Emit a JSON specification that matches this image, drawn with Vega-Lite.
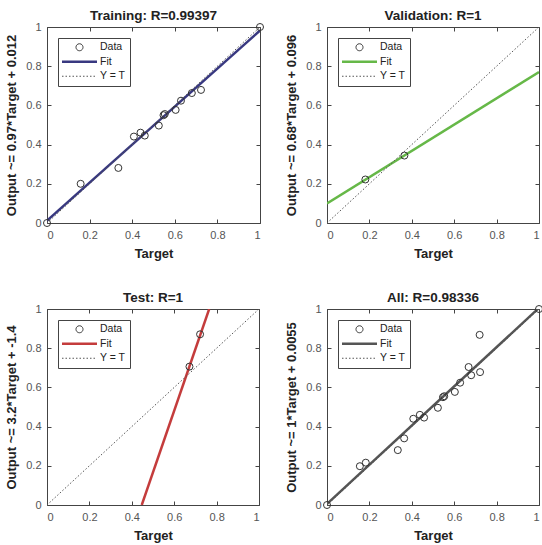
{
  "$schema": "https://vega.github.io/schema/vega-lite/v6.json",
  "padding": {"left": 5, "top": 8, "right": 0, "bottom": 0},
  "background": "white",
  "datasets": {
    "pts": [
      {"panel": "Training", "kind": "Data", "x": 0, "y": 0},
      {"panel": "Training", "kind": "Data", "x": 0.158, "y": 0.2},
      {"panel": "Training", "kind": "Data", "x": 0.335, "y": 0.281},
      {"panel": "Training", "kind": "Data", "x": 0.408, "y": 0.441},
      {"panel": "Training", "kind": "Data", "x": 0.439, "y": 0.461},
      {"panel": "Training", "kind": "Data", "x": 0.459, "y": 0.446},
      {"panel": "Training", "kind": "Data", "x": 0.525, "y": 0.497},
      {"panel": "Training", "kind": "Data", "x": 0.547, "y": 0.55},
      {"panel": "Training", "kind": "Data", "x": 0.553, "y": 0.556},
      {"panel": "Training", "kind": "Data", "x": 0.604, "y": 0.577},
      {"panel": "Training", "kind": "Data", "x": 0.629, "y": 0.624},
      {"panel": "Training", "kind": "Data", "x": 0.68, "y": 0.663},
      {"panel": "Training", "kind": "Data", "x": 0.723, "y": 0.679},
      {"panel": "Training", "kind": "Data", "x": 1, "y": 1},
      {"panel": "Training", "kind": "Fit", "x": 0, "y": 0.012},
      {"panel": "Training", "kind": "Fit", "x": 1, "y": 0.982},
      {"panel": "Training", "kind": "Y = T", "x": 0, "y": 0},
      {"panel": "Training", "kind": "Y = T", "x": 1, "y": 1},
      {"panel": "Validation", "kind": "Data", "x": 0.181, "y": 0.222},
      {"panel": "Validation", "kind": "Data", "x": 0.365, "y": 0.344},
      {"panel": "Validation", "kind": "Fit", "x": 0, "y": 0.1},
      {"panel": "Validation", "kind": "Fit", "x": 1, "y": 0.77},
      {"panel": "Validation", "kind": "Y = T", "x": 0, "y": 0},
      {"panel": "Validation", "kind": "Y = T", "x": 1, "y": 1},
      {"panel": "Test", "kind": "Data", "x": 0.672, "y": 0.706},
      {"panel": "Test", "kind": "Data", "x": 0.722, "y": 0.871},
      {"panel": "Test", "kind": "Fit", "x": 0.447, "y": 0},
      {"panel": "Test", "kind": "Fit", "x": 0.765, "y": 1},
      {"panel": "Test", "kind": "Y = T", "x": 0, "y": 0},
      {"panel": "Test", "kind": "Y = T", "x": 1, "y": 1},
      {"panel": "All", "kind": "Data", "x": 0, "y": 0},
      {"panel": "All", "kind": "Data", "x": 0.155, "y": 0.198},
      {"panel": "All", "kind": "Data", "x": 0.183, "y": 0.216},
      {"panel": "All", "kind": "Data", "x": 0.334, "y": 0.28},
      {"panel": "All", "kind": "Data", "x": 0.364, "y": 0.34},
      {"panel": "All", "kind": "Data", "x": 0.407, "y": 0.44},
      {"panel": "All", "kind": "Data", "x": 0.438, "y": 0.46},
      {"panel": "All", "kind": "Data", "x": 0.458, "y": 0.446},
      {"panel": "All", "kind": "Data", "x": 0.523, "y": 0.496},
      {"panel": "All", "kind": "Data", "x": 0.547, "y": 0.55},
      {"panel": "All", "kind": "Data", "x": 0.553, "y": 0.555},
      {"panel": "All", "kind": "Data", "x": 0.603, "y": 0.577},
      {"panel": "All", "kind": "Data", "x": 0.628, "y": 0.624},
      {"panel": "All", "kind": "Data", "x": 0.668, "y": 0.704},
      {"panel": "All", "kind": "Data", "x": 0.68, "y": 0.662},
      {"panel": "All", "kind": "Data", "x": 0.722, "y": 0.678},
      {"panel": "All", "kind": "Data", "x": 0.72, "y": 0.868},
      {"panel": "All", "kind": "Data", "x": 1, "y": 1},
      {"panel": "All", "kind": "Fit", "x": 0, "y": 0.0055},
      {"panel": "All", "kind": "Fit", "x": 1, "y": 1.0055},
      {"panel": "All", "kind": "Y = T", "x": 0, "y": 0},
      {"panel": "All", "kind": "Y = T", "x": 1, "y": 1}
    ]
  },
  "columns": 2,
  "spacing": {"row": 29, "column": 19},
  "resolve": {
    "scale": {"x": "independent", "y": "independent", "color": "independent"},
    "legend": {"color": "independent"},
    "axis": {"x": "independent", "y": "independent"}
  },
  "concat": [
    {
      "title": "Training: R=0.99397",
      "width": 213, "height": 196,
      "data": {"name": "pts"},
      "transform": [{"filter": "datum.panel === 'Training'"}],
      "resolve": {"axis": {"x": "independent", "y": "independent"}},
      "encoding": {
        "color": {"field": "kind", "type": "nominal", "scale": {"domain": ["Data", "Fit", "Y = T"], "range": ["#333333", "#383880", "#555555"]},
          "legend": {"title": null, "encode": {"symbols": {"update": {
            "shape": {"signal": "datum.value === 'Data' ? 'M2.5,0A1,1,0,1,1,4.5,0A1,1,0,1,1,2.5,0Z' : 'M-1.5,0H8.5'"},
            "strokeDash": {"signal": "datum.value === 'Y = T' ? [1.5, 2] : [1, 0]"},
            "strokeWidth": {"signal": "datum.value === 'Fit' ? 2.5 : 1"},
            "fill": {"value": "transparent"}, "opacity": {"value": 1}}}}}}
      },
      "layer": [
        {"transform": [{"filter": "datum.kind === 'Fit'"}], "mark": {"type": "line", "strokeWidth": 2.5, "clip": true},
         "encoding": {"x": {"field": "x", "type": "quantitative", "scale": {"domain": [0, 1], "nice": false}, "axis": null},
                      "y": {"field": "y", "type": "quantitative", "scale": {"domain": [0, 1], "nice": false}, "axis": null}}},
        {"transform": [{"filter": "datum.kind === 'Y = T'"}], "mark": {"type": "line", "strokeWidth": 1, "strokeDash": [1.5, 2], "clip": true},
         "encoding": {"x": {"field": "x", "type": "quantitative", "scale": {"domain": [0, 1], "nice": false}, "axis": {"orient": "top", "labels": false, "title": null, "values": [0, 0.2, 0.4, 0.6, 0.8, 1]}},
                      "y": {"field": "y", "type": "quantitative", "scale": {"domain": [0, 1], "nice": false}, "axis": {"orient": "right", "labels": false, "title": null, "values": [0, 0.2, 0.4, 0.6, 0.8, 1]}}}},
        {"transform": [{"filter": "datum.kind === 'Data'"}], "mark": {"type": "point", "filled": false, "size": 49, "opacity": 1, "strokeWidth": 1},
         "encoding": {"x": {"field": "x", "type": "quantitative", "scale": {"domain": [0, 1], "nice": false}, "axis": {"title": "Target", "values": [0, 0.2, 0.4, 0.6, 0.8, 1], "format": "~g"}},
                      "y": {"field": "y", "type": "quantitative", "scale": {"domain": [0, 1], "nice": false}, "axis": {"title": "Output ~= 0.97*Target + 0.012", "values": [0, 0.2, 0.4, 0.6, 0.8, 1], "format": "~g"}}}}
      ]
    },
    {
      "title": "Validation: R=1",
      "width": 212, "height": 196,
      "data": {"name": "pts"},
      "transform": [{"filter": "datum.panel === 'Validation'"}],
      "resolve": {"axis": {"x": "independent", "y": "independent"}},
      "encoding": {
        "color": {"field": "kind", "type": "nominal", "scale": {"domain": ["Data", "Fit", "Y = T"], "range": ["#333333", "#66b848", "#555555"]},
          "legend": {"title": null, "encode": {"symbols": {"update": {
            "shape": {"signal": "datum.value === 'Data' ? 'M2.5,0A1,1,0,1,1,4.5,0A1,1,0,1,1,2.5,0Z' : 'M-1.5,0H8.5'"},
            "strokeDash": {"signal": "datum.value === 'Y = T' ? [1.5, 2] : [1, 0]"},
            "strokeWidth": {"signal": "datum.value === 'Fit' ? 2.5 : 1"},
            "fill": {"value": "transparent"}, "opacity": {"value": 1}}}}}}
      },
      "layer": [
        {"transform": [{"filter": "datum.kind === 'Fit'"}], "mark": {"type": "line", "strokeWidth": 2.5, "clip": true},
         "encoding": {"x": {"field": "x", "type": "quantitative", "scale": {"domain": [0, 1], "nice": false}, "axis": null},
                      "y": {"field": "y", "type": "quantitative", "scale": {"domain": [0, 1], "nice": false}, "axis": null}}},
        {"transform": [{"filter": "datum.kind === 'Y = T'"}], "mark": {"type": "line", "strokeWidth": 1, "strokeDash": [1.5, 2], "clip": true},
         "encoding": {"x": {"field": "x", "type": "quantitative", "scale": {"domain": [0, 1], "nice": false}, "axis": {"orient": "top", "labels": false, "title": null, "values": [0, 0.2, 0.4, 0.6, 0.8, 1]}},
                      "y": {"field": "y", "type": "quantitative", "scale": {"domain": [0, 1], "nice": false}, "axis": {"orient": "right", "labels": false, "title": null, "values": [0, 0.2, 0.4, 0.6, 0.8, 1]}}}},
        {"transform": [{"filter": "datum.kind === 'Data'"}], "mark": {"type": "point", "filled": false, "size": 49, "opacity": 1, "strokeWidth": 1},
         "encoding": {"x": {"field": "x", "type": "quantitative", "scale": {"domain": [0, 1], "nice": false}, "axis": {"title": "Target", "values": [0, 0.2, 0.4, 0.6, 0.8, 1], "format": "~g"}},
                      "y": {"field": "y", "type": "quantitative", "scale": {"domain": [0, 1], "nice": false}, "axis": {"title": "Output ~= 0.68*Target + 0.096", "values": [0, 0.2, 0.4, 0.6, 0.8, 1], "format": "~g"}}}}
      ]
    },
    {
      "title": "Test: R=1",
      "width": 212, "height": 196,
      "data": {"name": "pts"},
      "transform": [{"filter": "datum.panel === 'Test'"}],
      "resolve": {"axis": {"x": "independent", "y": "independent"}},
      "encoding": {
        "color": {"field": "kind", "type": "nominal", "scale": {"domain": ["Data", "Fit", "Y = T"], "range": ["#333333", "#c43c3c", "#555555"]},
          "legend": {"title": null, "encode": {"symbols": {"update": {
            "shape": {"signal": "datum.value === 'Data' ? 'M2.5,0A1,1,0,1,1,4.5,0A1,1,0,1,1,2.5,0Z' : 'M-1.5,0H8.5'"},
            "strokeDash": {"signal": "datum.value === 'Y = T' ? [1.5, 2] : [1, 0]"},
            "strokeWidth": {"signal": "datum.value === 'Fit' ? 2.5 : 1"},
            "fill": {"value": "transparent"}, "opacity": {"value": 1}}}}}}
      },
      "layer": [
        {"transform": [{"filter": "datum.kind === 'Fit'"}], "mark": {"type": "line", "strokeWidth": 2.5, "clip": true},
         "encoding": {"x": {"field": "x", "type": "quantitative", "scale": {"domain": [0, 1], "nice": false}, "axis": null},
                      "y": {"field": "y", "type": "quantitative", "scale": {"domain": [0, 1], "nice": false}, "axis": null}}},
        {"transform": [{"filter": "datum.kind === 'Y = T'"}], "mark": {"type": "line", "strokeWidth": 1, "strokeDash": [1.5, 2], "clip": true},
         "encoding": {"x": {"field": "x", "type": "quantitative", "scale": {"domain": [0, 1], "nice": false}, "axis": {"orient": "top", "labels": false, "title": null, "values": [0, 0.2, 0.4, 0.6, 0.8, 1]}},
                      "y": {"field": "y", "type": "quantitative", "scale": {"domain": [0, 1], "nice": false}, "axis": {"orient": "right", "labels": false, "title": null, "values": [0, 0.2, 0.4, 0.6, 0.8, 1]}}}},
        {"transform": [{"filter": "datum.kind === 'Data'"}], "mark": {"type": "point", "filled": false, "size": 49, "opacity": 1, "strokeWidth": 1},
         "encoding": {"x": {"field": "x", "type": "quantitative", "scale": {"domain": [0, 1], "nice": false}, "axis": {"title": "Target", "values": [0, 0.2, 0.4, 0.6, 0.8, 1], "format": "~g"}},
                      "y": {"field": "y", "type": "quantitative", "scale": {"domain": [0, 1], "nice": false}, "axis": {"title": "Output ~= 3.2*Target + -1.4", "values": [0, 0.2, 0.4, 0.6, 0.8, 1], "format": "~g"}}}}
      ]
    },
    {
      "title": "All: R=0.98336",
      "width": 212, "height": 196,
      "data": {"name": "pts"},
      "transform": [{"filter": "datum.panel === 'All'"}],
      "resolve": {"axis": {"x": "independent", "y": "independent"}},
      "encoding": {
        "color": {"field": "kind", "type": "nominal", "scale": {"domain": ["Data", "Fit", "Y = T"], "range": ["#333333", "#555555", "#555555"]},
          "legend": {"title": null, "encode": {"symbols": {"update": {
            "shape": {"signal": "datum.value === 'Data' ? 'M2.5,0A1,1,0,1,1,4.5,0A1,1,0,1,1,2.5,0Z' : 'M-1.5,0H8.5'"},
            "strokeDash": {"signal": "datum.value === 'Y = T' ? [1.5, 2] : [1, 0]"},
            "strokeWidth": {"signal": "datum.value === 'Fit' ? 2.5 : 1"},
            "fill": {"value": "transparent"}, "opacity": {"value": 1}}}}}}
      },
      "layer": [
        {"transform": [{"filter": "datum.kind === 'Fit'"}], "mark": {"type": "line", "strokeWidth": 2.5, "clip": true},
         "encoding": {"x": {"field": "x", "type": "quantitative", "scale": {"domain": [0, 1], "nice": false}, "axis": null},
                      "y": {"field": "y", "type": "quantitative", "scale": {"domain": [0, 1], "nice": false}, "axis": null}}},
        {"transform": [{"filter": "datum.kind === 'Y = T'"}], "mark": {"type": "line", "strokeWidth": 1, "strokeDash": [1.5, 2], "clip": true},
         "encoding": {"x": {"field": "x", "type": "quantitative", "scale": {"domain": [0, 1], "nice": false}, "axis": {"orient": "top", "labels": false, "title": null, "values": [0, 0.2, 0.4, 0.6, 0.8, 1]}},
                      "y": {"field": "y", "type": "quantitative", "scale": {"domain": [0, 1], "nice": false}, "axis": {"orient": "right", "labels": false, "title": null, "values": [0, 0.2, 0.4, 0.6, 0.8, 1]}}}},
        {"transform": [{"filter": "datum.kind === 'Data'"}], "mark": {"type": "point", "filled": false, "size": 49, "opacity": 1, "strokeWidth": 1},
         "encoding": {"x": {"field": "x", "type": "quantitative", "scale": {"domain": [0, 1], "nice": false}, "axis": {"title": "Target", "values": [0, 0.2, 0.4, 0.6, 0.8, 1], "format": "~g"}},
                      "y": {"field": "y", "type": "quantitative", "scale": {"domain": [0, 1], "nice": false}, "axis": {"title": "Output ~= 1*Target + 0.0055", "values": [0, 0.2, 0.4, 0.6, 0.8, 1], "format": "~g"}}}}
      ]
    }
  ],
  "config": {
    "font": "Liberation Sans",
    "view": {"stroke": "#444444", "strokeWidth": 1},
    "title": {"font": "Liberation Sans", "fontSize": 13.5, "fontWeight": "bold", "color": "#222222", "offset": -1.5},
    "axis": {
      "grid": false, "domain": false, "tickSize": -4, "tickColor": "#444444", "tickWidth": 1,
      "labelFont": "Liberation Sans", "labelFontSize": 11, "labelColor": "#555555", "labelPadding": 10,
      "titleFont": "Liberation Sans", "titleFontSize": 13, "titleFontWeight": "bold", "titleColor": "#222222", "titlePadding": 7
    },
    "legend": {
      "orient": "top-left", "offset": 11, "strokeColor": "#444444", "fillColor": "white", "padding": 4,
      "labelFont": "Liberation Sans", "labelFontSize": 10.5, "labelColor": "#222222", "labelOffset": 27.5,
      "symbolSize": 49, "rowPadding": 3.5, "symbolStrokeWidth": 1
    }
  }
}
